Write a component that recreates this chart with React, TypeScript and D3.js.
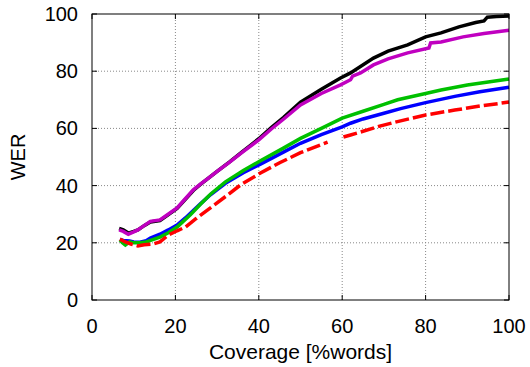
import { useEffect, useRef } from "react";
import * as d3 from "d3";

type Pt = [number, number] | null;

const xTicks = [0, 20, 40, 60, 80, 100];
const yTicks = [0, 20, 40, 60, 80, 100];

const blackSeries: Pt[] = [
  [6.5, 25], [7.5, 24.5], [8.7, 23.4], [10, 24], [11, 24.5], [12.5, 26], [14, 27.3],
  [16.3, 27.8], [18, 29.5], [20.4, 32], [22, 34.6], [24.3, 38.3], [26, 40.4], [28, 42.7],
  [30, 45], [33, 48.3], [36, 51.8], [38, 54.1], [40, 56.4], [43, 60.3], [45.9, 63.8],
  [50, 69.2], [55, 73.7], [59.6, 77.6], [62, 79.4], [67.5, 84.6], [71, 87], [75.7, 89.2],
  [80, 92], [83.7, 93.4], [88, 95.5], [92, 97], [94, 97.6], [94.8, 98.9], [97, 99.1],
  [100, 99.3],
];

const magentaSeries: Pt[] = [
  [6.5, 24.5], [7.5, 24], [8.7, 23], [10, 23.8], [11, 24.5], [12.5, 26], [14, 27.5],
  [16.3, 28], [18, 29.7], [20.4, 32.2], [22, 34.8], [24.3, 38.5], [26, 40.5], [28, 42.7],
  [30, 45], [33, 48.2], [36, 51.6], [40, 56], [43, 59.8], [45.9, 63.2], [50, 68.2],
  [55, 72.2], [59.6, 75.2], [62, 77], [62.5, 78.3], [64.4, 79.4], [67.5, 82.2], [71, 84.3],
  [75.7, 86.4], [80.8, 88.1], [81.2, 89.9], [83.7, 90.2], [89, 92], [94, 93.2], [100, 94.3],
];

const greenSeries: Pt[] = [
  [6.7, 21], [7.3, 20], [8, 19.2], [9, 20.3], [10, 20], [11.5, 20], [13, 20.3],
  [14.4, 21], [16.3, 22], [18.3, 23.5], [20.4, 25.5], [23.6, 29.8], [26, 33.5], [28.4, 37],
  [32, 41.3], [36.3, 45.3], [40.4, 48.7], [45.9, 53.1], [50, 56.5], [55, 60], [60, 63.6],
  [65, 66], [70, 68.4], [73.3, 70], [80, 72.2], [83.7, 73.4], [90, 75.2], [100, 77.3],
];

const blueSeries: Pt[] = [
  [6.7, 21.2], [7.5, 20.8], [9, 20.6], [10, 20.3], [11.5, 20.2], [13, 20.7], [14, 21.7],
  [16.3, 23], [18.3, 24.5], [20.4, 26.2], [22.4, 28.7], [26, 33.6], [28.4, 36.8], [32, 40.8],
  [36.3, 44.5], [40.4, 47.5], [45.9, 51.7], [50, 54.8], [55, 57.8], [60, 60.5], [62, 61.8],
  [65, 63.3], [70, 65.3], [74, 66.9], [80, 69], [87, 71.2], [93, 72.8], [100, 74.4],
];

const redSeries: Pt[] = [
  [6.7, 21.3], [8, 20.3], [9.5, 19.5], [11, 18.9], [12.5, 19.3], [14.4, 19.5],
  [16.3, 20.3], [18.3, 22.7], [20.4, 24.2], [22.4, 25.5], [25, 28.5], [28.4, 32.2],
  [32.5, 36.7], [35.6, 40.2], [40.4, 44.4], [45, 48], [50, 51.5], [56.5, 55.2],
  null,
  [60.3, 57], [62, 57.7], [65, 59], [69, 60.8], [73, 62.3], [80, 64.7], [87, 66.4],
  [93, 67.8], [100, 69.2],
];

const series = [
  { data: blackSeries, color: "#000000", dash: "" },
  { data: magentaSeries, color: "#c000c0", dash: "" },
  { data: blueSeries, color: "#0000ff", dash: "" },
  { data: greenSeries, color: "#00c000", dash: "" },
  { data: redSeries, color: "#ff0000", dash: "14,4" },
];

export default function App() {
  const svgRef = useRef<SVGSVGElement>(null);

  useEffect(() => {
    const W = 530;
    const H = 367;
    const margin = { top: 14, right: 21, bottom: 67, left: 92 };
    const iw = W - margin.left - margin.right;
    const ih = H - margin.top - margin.bottom;

    const root = d3.select(svgRef.current);
    root.selectAll("*").remove();

    const svg = root
      .attr("width", W)
      .attr("height", H)
      .style("font-family", "'Liberation Sans', Arial, sans-serif")
      .append("g")
      .attr("transform", `translate(${margin.left},${margin.top})`);

    const x = d3.scaleLinear().domain([0, 100]).range([0, iw]);
    const y = d3.scaleLinear().domain([0, 100]).range([ih, 0]);

    // grid
    svg.selectAll(".gx")
      .data(xTicks.slice(1, -1))
      .join("line")
      .attr("x1", d => x(d)).attr("x2", d => x(d))
      .attr("y1", 0).attr("y2", ih)
      .attr("stroke", "#888")
      .attr("stroke-width", 1)
      .attr("stroke-dasharray", "1,2");

    svg.selectAll(".gy")
      .data(yTicks.slice(1, -1))
      .join("line")
      .attr("x1", 0).attr("x2", iw)
      .attr("y1", d => y(d)).attr("y2", d => y(d))
      .attr("stroke", "#888")
      .attr("stroke-width", 1)
      .attr("stroke-dasharray", "1,2");

    // inner ticks on all sides
    const tl = 5;
    xTicks.forEach(t => {
      svg.append("line").attr("x1", x(t)).attr("x2", x(t)).attr("y1", ih).attr("y2", ih - tl).attr("stroke", "#000");
      svg.append("line").attr("x1", x(t)).attr("x2", x(t)).attr("y1", 0).attr("y2", tl).attr("stroke", "#000");
    });
    yTicks.forEach(t => {
      svg.append("line").attr("x1", 0).attr("x2", tl).attr("y1", y(t)).attr("y2", y(t)).attr("stroke", "#000");
      svg.append("line").attr("x1", iw).attr("x2", iw - tl).attr("y1", y(t)).attr("y2", y(t)).attr("stroke", "#000");
    });

    const line = d3.line<Pt>()
      .defined(d => d !== null)
      .x(d => x((d as [number, number])[0]))
      .y(d => y((d as [number, number])[1]));

    series.forEach(s => {
      svg.append("path")
        .datum(s.data)
        .attr("d", line)
        .attr("fill", "none")
        .attr("stroke", s.color)
        .attr("stroke-width", 3.5)
        .attr("stroke-dasharray", s.dash || null);
    });

    // frame
    svg.append("rect")
      .attr("x", 0).attr("y", 0)
      .attr("width", iw).attr("height", ih)
      .attr("fill", "none")
      .attr("stroke", "#000")
      .attr("stroke-width", 1);

    // tick labels
    svg.selectAll(".xl")
      .data(xTicks)
      .join("text")
      .attr("x", d => x(d))
      .attr("y", ih + 33)
      .attr("text-anchor", "middle")
      .attr("font-size", 20)
      .text(d => d);

    svg.selectAll(".yl")
      .data(yTicks)
      .join("text")
      .attr("x", -14)
      .attr("y", d => y(d))
      .attr("dy", "0.35em")
      .attr("text-anchor", "end")
      .attr("font-size", 20)
      .text(d => d);

    svg.append("text")
      .attr("x", iw / 2)
      .attr("y", ih + 59)
      .attr("text-anchor", "middle")
      .attr("font-size", 21)
      .text("Coverage [%words]");

    svg.append("text")
      .attr("transform", "rotate(-90)")
      .attr("x", -ih / 2)
      .attr("y", -67)
      .attr("text-anchor", "middle")
      .attr("font-size", 20)
      .text("WER");
  }, []);

  return <svg ref={svgRef} style={{ position: "absolute", left: 0, top: 0 }} />;
}
